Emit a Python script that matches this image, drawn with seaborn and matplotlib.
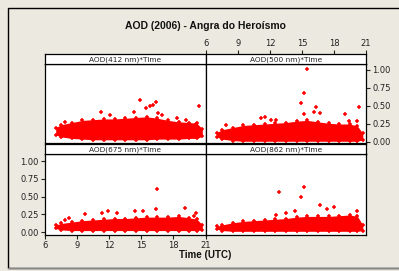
import matplotlib
matplotlib.use("Agg")
import matplotlib.pyplot as plt
import seaborn as sns
import pandas as pd
from matplotlib.lines import Line2D

sns.set_style("white")

# dense band: times (UTC hours) and lower/upper edges
band_time = [7.0, 7.5, 8.5, 9.5, 10.5, 11.5, 12.5, 13.5, 14.5, 15.5, 16.5, 17.5, 18.5, 19.5, 20.2, 20.7]
high_412 = [0.20, 0.24, 0.27, 0.30, 0.31, 0.32, 0.32, 0.33, 0.34, 0.35, 0.33, 0.30, 0.28, 0.27, 0.26, 0.18]
low_412 = [0.10, 0.07, 0.05, 0.04, 0.03, 0.03, 0.03, 0.03, 0.03, 0.03, 0.04, 0.04, 0.04, 0.05, 0.05, 0.08]
high_500 = [0.13, 0.17, 0.20, 0.23, 0.24, 0.25, 0.26, 0.27, 0.29, 0.30, 0.28, 0.26, 0.25, 0.25, 0.22, 0.12]
low_500 = [0.07, 0.04, 0.02, 0.01, 0.01, 0.01, 0.01, 0.01, 0.01, 0.01, 0.01, 0.01, 0.01, 0.01, 0.01, 0.03]
high_675 = [0.10, 0.12, 0.14, 0.16, 0.17, 0.18, 0.19, 0.19, 0.20, 0.21, 0.21, 0.21, 0.22, 0.20, 0.18, 0.10]
low_675 = [0.05, 0.03, 0.02, 0.02, 0.02, 0.02, 0.02, 0.02, 0.02, 0.02, 0.02, 0.02, 0.02, 0.02, 0.02, 0.03]
high_862 = [0.08, 0.10, 0.13, 0.15, 0.16, 0.17, 0.18, 0.19, 0.21, 0.22, 0.22, 0.22, 0.23, 0.24, 0.22, 0.10]
low_862 = [0.04, 0.02, 0.01, 0.01, 0.01, 0.01, 0.01, 0.01, 0.01, 0.01, 0.01, 0.01, 0.01, 0.01, 0.01, 0.02]

# isolated points above the band
out_t_412 = [7.9, 11.25, 12.1, 14.3, 14.9, 15.4, 15.85, 16.1, 16.4, 16.6, 16.9, 18.3, 19.2, 20.1, 20.4]
out_v_412 = [0.28, 0.41, 0.375, 0.41, 0.58, 0.47, 0.50, 0.51, 0.56, 0.40, 0.37, 0.33, 0.31, 0.25, 0.50]
out_t_500 = [7.85, 11.2, 11.5, 12.1, 12.6, 14.9, 15.2, 15.2, 15.5, 16.1, 16.3, 16.7, 19.0, 19.4, 20.2, 20.3]
out_v_500 = [0.23, 0.34, 0.35, 0.31, 0.31, 0.54, 0.39, 0.68, 1.02, 0.42, 0.48, 0.40, 0.39, 0.29, 0.29, 0.49]
out_t_675 = [7.9, 8.25, 9.75, 11.3, 11.9, 12.7, 14.4, 15.2, 16.4, 16.5, 19.1, 19.9, 20.1]
out_v_675 = [0.17, 0.20, 0.25, 0.27, 0.30, 0.27, 0.30, 0.30, 0.33, 0.61, 0.34, 0.23, 0.27]
out_t_862 = [12.6, 12.85, 13.5, 14.3, 14.9, 15.2, 16.65, 17.3, 18.0, 20.2]
out_v_862 = [0.24, 0.57, 0.27, 0.29, 0.50, 0.64, 0.38, 0.33, 0.35, 0.29]

labels = ["AOD(412 nm)*Time", "AOD(500 nm)*Time", "AOD(675 nm)*Time", "AOD(862 nm)*Time"]
highs = [high_412, high_500, high_675, high_862]
lows = [low_412, low_500, low_675, low_862]
outs = [(out_t_412, out_v_412), (out_t_500, out_v_500), (out_t_675, out_v_675), (out_t_862, out_v_862)]

W, H = 399, 271
bg = "#ECE9E0"
red = "#FF0000"
fig = plt.figure(figsize=(W / 100, H / 100), dpi=100, facecolor=bg)
# outer frame: left, top and bottom edges only (right edge is off the picture)
fx0, fy0, fy1 = 7.5 / W, 1 - 7.5 / H, 1 - 268 / H
fig.add_artist(Line2D([1.0, fx0, fx0, 1.0], [fy0, fy0, fy1, fy1], transform=fig.transFigure,
                      color="black", linewidth=1.0))
fig.add_artist(Line2D([fx0, 1.0], [fy1, fy1], transform=fig.transFigure,
                      color="#888888", linewidth=1.0))

# pixel boxes: (left, right) x and (strip top, plot top, plot bottom) y
cols = [(45, 205.5), (206, 366)]
rows = [(54, 64, 143), (144, 154, 235)]
ylims = [(-0.014, 1.083), (-0.042, 1.099)]
ticks = [0, 0.25, 0.5, 0.75, 1.0]
xt = [6, 9, 12, 15, 18, 21]

for i in range(4):
    r, c = divmod(i, 2)
    x0, x1 = cols[c]
    st, pt, pb = rows[r]
    ax = fig.add_axes([x0 / W, (H - pb) / H, (x1 - x0) / W, (pb - pt) / H])
    sx = fig.add_axes([x0 / W, (H - pt) / H, (x1 - x0) / W, (pt - st) / H])
    ax.set_facecolor("white")
    band = pd.DataFrame({"t": band_time, "lo": lows[i], "hi": highs[i]})
    ax.fill_between(band.t, band.lo, band.hi, color=red, linewidth=0)
    edge = pd.DataFrame({"t": band_time * 2, "v": highs[i] + lows[i]})
    sns.scatterplot(data=edge, x="t", y="v", ax=ax, marker="+", s=9, color=red, linewidth=1.1)
    pts = pd.DataFrame({"t": outs[i][0], "v": outs[i][1]})
    sns.scatterplot(data=pts, x="t", y="v", ax=ax, marker="+", s=9, color=red, linewidth=1.1)
    ax.set_xlim(6, 21)
    ax.set_ylim(*ylims[r])
    ax.set_xlabel("")
    ax.set_ylabel("")
    for sp in ax.spines.values():
        sp.set_color("black")
        sp.set_linewidth(0.9)
    ax.tick_params(length=3, width=0.8, labelsize=6, colors="#222222", pad=1.5)
    ax.set_xticks(xt)
    ax.set_yticks(ticks)
    ax.set_yticklabels([f"{v:.2f}" for v in ticks])
    ax.tick_params(bottom=(i == 2), labelbottom=(i == 2), left=(i == 2), labelleft=(i == 2))
    if i == 1:
        ax.tick_params(right=True, labelright=True)

    sx.set_facecolor("white")
    sx.set_xlim(6, 21)
    sx.set_yticks([])
    for sp in sx.spines.values():
        sp.set_color("black")
        sp.set_linewidth(0.9)
    sx.text(0.5, 0.45, labels[i], transform=sx.transAxes, ha="center", va="center",
            fontsize=5.3, color="#222222")
    sx.set_xticks(xt)
    sx.tick_params(bottom=False, labelbottom=False, top=(i == 1), labeltop=(i == 1),
                   length=3, width=0.8, labelsize=6, colors="#222222", pad=1.5)

fig.text(205.5 / W, 1 - 26 / H, "AOD (2006) - Angra do Heroísmo", ha="center", va="center",
         fontsize=7.5, fontweight="bold", family="Liberation Sans", color="#111111")
fig.text(205.5 / W, 1 - 255 / H, "Time (UTC)", ha="center", va="center",
         fontsize=7, fontweight="bold", family="Liberation Sans", color="#111111")

fig.savefig("out.png", dpi=100, facecolor=bg)
